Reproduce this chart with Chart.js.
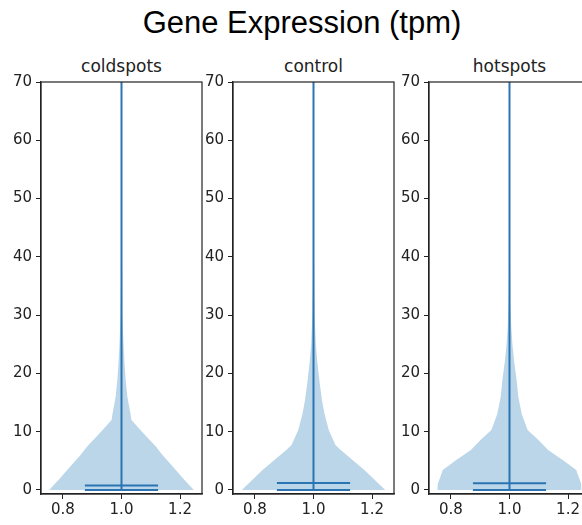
<!DOCTYPE html>
<html>
<head>
<meta charset="utf-8">
<script src="https://cdn.jsdelivr.net/npm/chart.js@4.4.1/dist/chart.umd.min.js"></script>
<style>
  body { margin: 0; background: #fff; overflow: hidden; }
  #wrap { position: relative; width: 582px; height: 525px; overflow: hidden; }
  #wrap canvas { position: absolute; }
  .title { position: absolute; font-family: 'Liberation Sans', Arial, sans-serif; font-size: 31px; color: #000; white-space: nowrap; transform: translateX(-50%); }
  .sub { position: absolute; font-family: 'DejaVu Sans', sans-serif; font-size: 17px; color: #222; white-space: nowrap; transform: translateX(-50%); }
</style>
</head>
<body>
<div id="wrap">
  <div class="title" style="left:302px; top:5px;">Gene Expression (tpm)</div>
</div>
<script>
// DATA
const categories = ['coldspots', 'control', 'hotspots'];
const yTicks = [0, 10, 20, 30, 40, 50, 60, 70];
const xTicks = [0.8, 1.0, 1.2];

// violin outline: expression level -> half width
const coldLevels = [0, 2, 4, 6, 7.4, 10, 12, 13, 16, 19, 22, 25, 30, 40, 60, 90];
const coldWidths = [0.247, 0.21, 0.175, 0.14, 0.118, 0.07, 0.034, 0.031, 0.02, 0.014, 0.01, 0.007, 0.003, 0.0015, 0.001, 0.001];
const controlLevels = [0, 3.4, 6.85, 7.7, 10.3, 13, 15.4, 18.8, 22, 25, 30, 40, 60, 90];
const controlWidths = [0.245, 0.174, 0.093, 0.075, 0.052, 0.038, 0.029, 0.02, 0.013, 0.008, 0.004, 0.0015, 0.001, 0.001];
const hotLevels = [0, 1, 3.4, 5.1, 6.85, 8.6, 10.3, 13, 16, 19, 22, 25, 28, 32, 40, 60, 90];
const hotWidths = [0.246, 0.245, 0.228, 0.183, 0.132, 0.098, 0.062, 0.042, 0.03, 0.024, 0.016, 0.01, 0.006, 0.003, 0.0015, 0.001, 0.001];

const minima = [0, 0, 0];
const medians = [0.75, 1.2, 1.15];
const maxima = [90, 90, 90];

const levels = [coldLevels, controlLevels, hotLevels];
const halfWidths = [coldWidths, controlWidths, hotWidths];

// LAYOUT
const PLOT_LEFT = [41, 233, 429];
const PLOT_W = 161;
const PLOT_TOP = 81;
const PLOT_BOTTOM = 494;
const Y_AXIS_W = 36;
const X_AXIS_H = 30;
const PAD_TOP = 12;

const LINE_COLOR = '#2f73b3';
const BODY_COLOR = 'rgba(31, 119, 180, 0.3)';

Chart.defaults.font.family = "'DejaVu Sans', sans-serif";
Chart.defaults.font.size = 15;
Chart.defaults.color = '#222';

// draws the matplotlib style box round the plot
const frame = {
  id: 'frame',
  afterDraw(chart) {
    const a = chart.chartArea;
    const ctx = chart.ctx;
    ctx.save();
    ctx.strokeStyle = '#222';
    ctx.lineWidth = 1.2;
    ctx.strokeRect(a.left, a.top, a.right - a.left, a.bottom - a.top);
    ctx.restore();
  }
};

function violinPoints(lv, hw) {
  const right = lv.map((v, i) => ({ x: 1 + hw[i], y: v }));
  const left = lv.map((v, i) => ({ x: 1 - hw[i], y: v })).reverse();
  return right.concat(left);
}

function hLine(y) {
  return [{ x: 0.875, y: y }, { x: 1.125, y: y }];
}

const wrap = document.getElementById('wrap');

categories.forEach((name, i) => {
  const t = document.createElement('div');
  t.className = 'sub';
  t.style.left = (PLOT_LEFT[i] + PLOT_W / 2) + 'px';
  t.style.top = '56px';
  t.textContent = name;
  wrap.appendChild(t);

  const canvas = document.createElement('canvas');
  const cw = Y_AXIS_W + PLOT_W + 2;
  const ch = PLOT_BOTTOM - PLOT_TOP + PAD_TOP + X_AXIS_H;
  canvas.width = cw;
  canvas.height = ch;
  canvas.style.width = cw + 'px';
  canvas.style.height = ch + 'px';
  canvas.style.left = (PLOT_LEFT[i] - Y_AXIS_W) + 'px';
  canvas.style.top = (PLOT_TOP - PAD_TOP) + 'px';
  wrap.appendChild(canvas);

  const lineOpts = { borderColor: LINE_COLOR, borderWidth: 2, pointRadius: 0, fill: false };

  new Chart(canvas, {
    type: 'line',
    data: {
      datasets: [
        { data: violinPoints(levels[i], halfWidths[i]), backgroundColor: BODY_COLOR, borderWidth: 0, pointRadius: 0, fill: 'shape' },
        { data: [{ x: 1, y: minima[i] }, { x: 1, y: maxima[i] }], ...lineOpts },
        { data: hLine(minima[i]), ...lineOpts },
        { data: hLine(medians[i]), ...lineOpts },
        { data: hLine(maxima[i]), ...lineOpts }
      ]
    },
    options: {
      responsive: false,
      animation: false,
      devicePixelRatio: 1,
      layout: { padding: { top: PAD_TOP, right: 2, bottom: 0, left: 0 } },
      plugins: { legend: { display: false }, tooltip: { enabled: false } },
      scales: {
        x: {
          type: 'linear',
          min: 0.725,
          max: 1.275,
          afterFit: s => { s.height = X_AXIS_H; },
          afterBuildTicks: s => { s.ticks = xTicks.map(v => ({ value: v })); },
          grid: { display: true, drawOnChartArea: false, color: '#222', tickLength: 5 },
          border: { display: true, color: '#222', width: 1.2 },
          ticks: { padding: 2, maxRotation: 0, callback: v => v.toFixed(1) }
        },
        y: {
          type: 'linear',
          min: -0.7,
          max: 70,
          afterFit: s => { s.width = Y_AXIS_W; },
          afterBuildTicks: s => { s.ticks = yTicks.map(v => ({ value: v })); },
          grid: { display: true, drawOnChartArea: false, color: '#222', tickLength: 5 },
          border: { display: true, color: '#222', width: 1.2 },
          ticks: { padding: 4, callback: v => String(v) }
        }
      }
    },
    plugins: [frame]
  });
});
</script>
</body>
</html>
